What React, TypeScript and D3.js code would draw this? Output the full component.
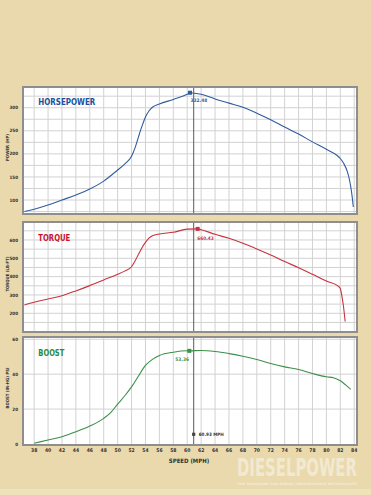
import React from "react";
import * as d3 from "d3";

const W = 371;
const H = 495;

const xTicks = [38, 40, 42, 44, 46, 48, 50, 52, 54, 56, 58, 60, 62, 64, 66, 68, 70, 72, 74, 76, 78, 80, 82, 84];

const hpSpeed = [36.6, 38, 40, 42, 44, 46, 48, 50, 51, 52, 52.5, 53, 53.5, 54, 54.5, 55, 56, 58, 60, 60.4, 62, 64, 66, 68, 70, 72, 74, 76, 78, 80, 81.5, 82, 82.5, 83, 83.3, 83.5, 83.7, 83.87];
const hpValue = [75, 80, 89, 100, 111, 124, 141, 165, 178, 195, 213, 237, 260, 280, 293, 301, 308, 318, 329, 332.48, 329, 319, 310, 301, 288, 274, 258, 243, 226, 210, 197, 190, 179, 162, 145, 129, 108, 85];
const hpTicks = [100, 150, 200, 250, 300];
const hpGrid = [75, 100, 125, 150, 175, 200, 225, 250, 275, 300, 325];

const tqSpeed = [36.6, 38, 40, 42, 44, 46, 48, 50, 51, 52, 52.5, 53, 53.5, 54, 54.5, 55, 56, 58, 60, 61.5, 62, 64, 66, 68, 70, 72, 74, 76, 78, 80, 81.7, 82.0, 82.2, 82.45, 82.7];
const tqValue = [245, 260, 278, 296, 322, 351, 382, 413, 430, 454, 485, 522, 558, 587, 610, 623, 633, 642, 659, 660.43, 656, 631, 609, 582, 551, 518, 482, 449, 413, 376, 348, 335, 300, 240, 155];
const tqTicks = [200, 300, 400, 500, 600];
const tqGrid = [100, 150, 200, 250, 300, 350, 400, 450, 500, 550, 600, 650];

const bsSpeed = [38, 40, 42, 44, 46, 48, 49, 50, 51, 52, 53, 54, 55, 56, 58, 60, 60.3, 62, 64, 66, 68, 70, 72, 74, 76, 78, 80, 81, 82, 82.8, 83.5];
const bsValue = [0.4, 2.3, 4.2, 7, 10.3, 14.7, 18, 22.8, 27.5, 32.7, 39, 45, 48.5, 50.7, 52.6, 53.4, 53.36, 53.6, 53, 51.8, 50.3, 48.4, 46.1, 44.2, 42.7, 40.4, 38.5, 38, 36.2, 33.7, 31.3];
const bsTicks = [0, 20, 40, 60];
const bsGrid = [20, 40, 60];

const cursorSpeed = 60.93;

const FONT = "'DejaVu Sans Condensed', 'Liberation Sans Narrow', 'DejaVu Sans', sans-serif";

const x = d3.scaleLinear().domain([36.4, 84.4]).range([23, 357]);

type Panel = {
  title: string;
  axisTitle: string;
  color: string;
  titleColor: string;
  titleLen: number;
  titleY: number;
  top: number;
  bottom: number;
  domain: [number, number];
  ticks: number[];
  grid: number[];
  speed: number[];
  value: number[];
  peakIndex: number;
  peakLabel: string;
  labelDx: number;
  labelDy: number;
};

const panels: Panel[] = [
  {
    title: "HORSEPOWER", axisTitle: "POWER (HP)", color: "#2f5c9e", titleColor: "#1c4f9b", titleLen: 57, titleY: 105,
    top: 87, bottom: 214, domain: [69.7, 344.9], ticks: hpTicks, grid: hpGrid,
    speed: hpSpeed, value: hpValue, peakIndex: 19, peakLabel: "332.48", labelDx: 0.5, labelDy: 9,
  },
  {
    title: "TORQUE", axisTitle: "TORQUE (LB-FT)", color: "#c8323f", titleColor: "#c8102e", titleLen: 32, titleY: 241,
    top: 222, bottom: 332, domain: [98, 698], ticks: tqTicks, grid: tqGrid,
    speed: tqSpeed, value: tqValue, peakIndex: 19, peakLabel: "660.43", labelDx: -0.5, labelDy: 11,
  },
  {
    title: "BOOST", axisTitle: "BOOST (IN-HG) PSI", color: "#3d8f4a", titleColor: "#2a8a3c", titleLen: 26, titleY: 356,
    top: 337, bottom: 445, domain: [-0.57, 61.3], ticks: bsTicks, grid: bsGrid,
    speed: bsSpeed, value: bsValue, peakIndex: 16, peakLabel: "53.36", labelDx: -14, labelDy: 10,
  },
];

function PanelView({ p }: { p: Panel }) {
  const y = d3.scaleLinear().domain(p.domain).range([p.bottom, p.top]);
  const pts: [number, number][] = p.speed.map((s, i) => [s, p.value[i]]);
  const line = d3
    .line<[number, number]>()
    .x((d) => x(d[0]))
    .y((d) => y(d[1]))
    .curve(d3.curveMonotoneX);
  const [x0, x1] = x.range();
  const px = x(p.speed[p.peakIndex]);
  const py = y(p.value[p.peakIndex]);
  const cx = x(cursorSpeed);
  const midY = (p.top + p.bottom) / 2;
  return (
    <g>
      <rect x={x0} y={p.top} width={x1 - x0} height={p.bottom - p.top} fill="#ffffff" />
      {p.grid.map((g) => (
        <line key={"h" + g} x1={x0} x2={x1} y1={y(g)} y2={y(g)} stroke="#d2d2d2" strokeWidth={1} />
      ))}
      {xTicks.map((t) => (
        <line key={"v" + t} x1={x(t)} x2={x(t)} y1={p.top} y2={p.bottom} stroke="#d2d2d2" strokeWidth={1} />
      ))}
      <line x1={cx} x2={cx} y1={p.top} y2={p.bottom} stroke="#5a5a5a" strokeWidth={1} />
      <path d={line(pts) || ""} fill="none" stroke={p.color} strokeWidth={1.1} />
      <rect x={px - 2} y={py - 2} width={4} height={4} fill={p.color} />
      <text x={px + p.labelDx} y={py + p.labelDy} fontSize={4.8} fontWeight="bold" fill={p.color} fontFamily={FONT}>
        {p.peakLabel}
      </text>
      <rect x={x0} y={p.top} width={x1 - x0} height={p.bottom - p.top} fill="none" stroke="#8e8e8e" strokeWidth={2} />
      <text x={38.3} y={p.titleY} fontSize={9.5} fontWeight="bold" fill={p.titleColor} fontFamily={FONT}
        textLength={p.titleLen} lengthAdjust="spacingAndGlyphs">
        {p.title}
      </text>
      {p.ticks.map((t) => (
        <text key={"t" + t} x={18} y={y(t) + 1.6} fontSize={4.5} fontWeight="bold" fill="#333" textAnchor="end" fontFamily={FONT}>
          {t}
        </text>
      ))}
      <text transform={`translate(8.8, ${midY - 3}) rotate(-90)`} fontSize={4.3} fontWeight="bold" fill="#333"
        textAnchor="middle" fontFamily={FONT}>
        {p.axisTitle}
      </text>
    </g>
  );
}

export default function App() {
  const cx = x(cursorSpeed);
  return (
    <svg width={W} height={H} viewBox={`0 0 ${W} ${H}`}
      style={{ position: "absolute", left: 0, top: 0, display: "block" }}>
      <rect x={0} y={0} width={W} height={H} fill="#e9d9ad" />
      <rect x={0} y={489} width={W} height={6} fill="#eee2bb" />
      {panels.map((p) => (
        <PanelView key={p.title} p={p} />
      ))}
      <rect x={cx - 1.6} y={432.7} width={3.2} height={3.2} fill="#444" />
      <text x={cx + 5} y={436.2} fontSize={4.6} fontWeight="bold" fill="#333" fontFamily={FONT}>
        60.93 MPH
      </text>
      {xTicks.map((t) => (
        <text key={"xt" + t} x={x(t)} y={452} fontSize={5} fontWeight="bold" fill="#333" textAnchor="middle" fontFamily={FONT}>
          {t}
        </text>
      ))}
      <text x={189} y={463} fontSize={6} fontWeight="bold" fill="#333" textAnchor="middle" fontFamily={FONT}>
        SPEED (MPH)
      </text>
      <g transform="translate(237, 476) scale(1, 1.5)">
        <text x={0} y={0} fontSize={16.5} fontWeight="bold" fill="#ffffff" fillOpacity={0.45}
          fontFamily={FONT} textLength={120} lengthAdjust="spacingAndGlyphs">
          DIESELPOWER
        </text>
      </g>
      <text x={237} y={485} fontSize={3.2} fontWeight="bold" fill="#ffffff" fillOpacity={0.5}
        fontFamily={FONT} textLength={120} lengthAdjust="spacingAndGlyphs">
        THE MAGAZINE FOR DIESEL PERFORMANCE ENTHUSIASTS
      </text>
    </svg>
  );
}
